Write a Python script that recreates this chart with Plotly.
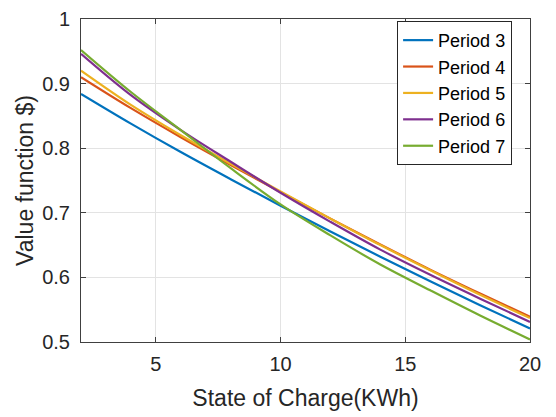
import plotly.graph_objects as go

x_soc = [2, 4, 6, 8, 10, 12, 14, 16, 18, 20]
period3 = [0.884, 0.838, 0.794, 0.752, 0.711, 0.671, 0.632, 0.594, 0.557, 0.521]
period4 = [0.910, 0.862, 0.817, 0.774, 0.732, 0.691, 0.651, 0.612, 0.575, 0.539]
period5 = [0.920, 0.867, 0.820, 0.776, 0.733, 0.691, 0.650, 0.611, 0.573, 0.537]
period6 = [0.946, 0.882, 0.828, 0.779, 0.731, 0.686, 0.643, 0.604, 0.567, 0.531]
period7 = [0.952, 0.887, 0.828, 0.769, 0.713, 0.665, 0.620, 0.580, 0.541, 0.504]

names = ["Period 3", "Period 4", "Period 5", "Period 6", "Period 7"]
series = [period3, period4, period5, period6, period7]
colors = ["#0072BD", "#D95319", "#EDB120", "#7E2F8E", "#77AC30"]

fig = go.Figure()
for n, s, c in zip(names, series, colors):
    fig.add_trace(go.Scatter(x=x_soc, y=s, name=n, mode="lines",
                             line=dict(color=c, width=2.2, shape="spline", smoothing=1.0)))

axis_common = dict(
    showline=True, linecolor="#404040", linewidth=1, mirror="ticks",
    ticks="inside", ticklen=5, tickcolor="#404040",
    showgrid=True, gridcolor="#E3E3E3", gridwidth=1,
    zeroline=False, ticklabeloverflow="allow",
    tickfont=dict(family="Liberation Sans, Arial", size=20, color="#262626"),
)

fig.update_layout(
    width=556, height=417,
    margin=dict(l=81, r=26, t=8, b=75),
    paper_bgcolor="white", plot_bgcolor="white",
    font=dict(family="Liberation Sans, Arial", color="#262626"),
    xaxis=dict(range=[2, 20], tickvals=[5, 10, 15, 20], ticklabelstandoff=4,
               title=dict(text="State of Charge(KWh)", font=dict(size=23), standoff=15),
               **axis_common),
    yaxis=dict(range=[0.5, 1], tickvals=[0.5, 0.6, 0.7, 0.8, 0.9, 1],
               ticktext=["0.5", "0.6", "0.7", "0.8", "0.9", "1"], ticklabelstandoff=6,
               title=dict(text="Value function $)", font=dict(size=23), standoff=2),
               **axis_common),
    legend=dict(x=0.704, y=0.994, xanchor="left", yanchor="top",
                bordercolor="#262626", borderwidth=1, bgcolor="white",
                font=dict(size=18, color="#000000"), tracegroupgap=0,
                itemwidth=30),
    showlegend=True,
)

fig.write_html("out.html")
